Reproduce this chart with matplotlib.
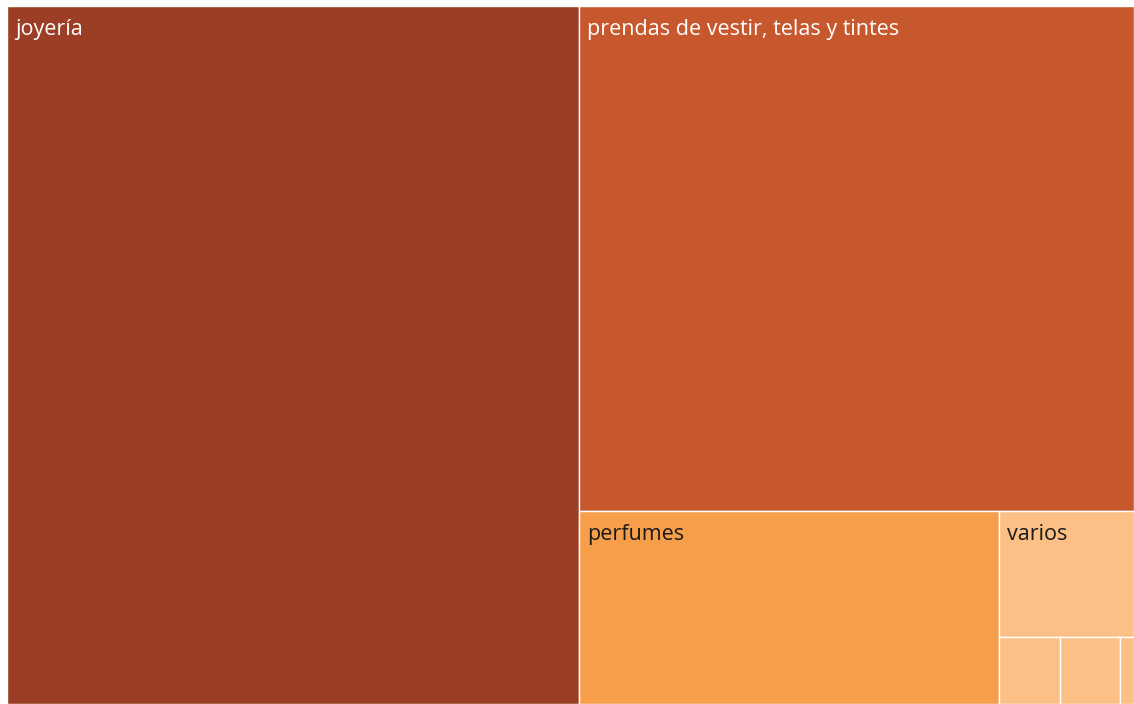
import matplotlib.pyplot as plt
from matplotlib.patches import Rectangle

# Treemap data (shares, percent of total)
categories = ['joyería', 'prendas de vestir, telas y tintes', 'perfumes', 'varios', '', '', '']
values = [50.7, 35.6, 10.3, 2.15, 0.52, 0.51, 0.12]
colors = ['#9B3E25', '#C7582E', '#F79E4B', '#FCC086', '#FCC086', '#FCC086', '#FCC086']
text_colors = ['white', 'white', '#1a1a1a', '#1a1a1a', '#1a1a1a', '#1a1a1a', '#1a1a1a']

W, H = 1127.0, 698.0


def worst(row, side):
    s = sum(row)
    return max(max(side * side * r / (s * s), s * s / (side * side * r)) for r in row)


def layout_row(row, x, y, w, h, rects):
    s = sum(row)
    if w >= h:
        # column on the left, stacked vertically
        cw = s / h
        cy = y
        for r in row:
            rh = r / cw
            rects.append((x, cy, cw, rh))
            cy += rh
        return x + cw, y, w - cw, h
    else:
        # row on the top, laid horizontally
        rh = s / w
        cx = x
        for r in row:
            rw = r / rh
            rects.append((cx, y, rw, rh))
            cx += rw
        return x, y + rh, w, h - rh


def squarify(sizes, x, y, w, h):
    rects = []
    sizes = list(sizes)
    while sizes:
        side = min(w, h)
        row = [sizes.pop(0)]
        while sizes and worst(row + [sizes[0]], side) <= worst(row, side):
            row.append(sizes.pop(0))
        x, y, w, h = layout_row(row, x, y, w, h, rects)
    return rects


total = sum(values)
areas = [v / total * W * H for v in values]
rects = squarify(areas, 0, 0, W, H)

fig = plt.figure(figsize=(11.34, 7.04), dpi=100)
ax = fig.add_axes([7 / 1134, 0, W / 1134, H / 704])
ax.set_xlim(0, W)
ax.set_ylim(H, 0)
ax.axis('off')

for (x, y, w, h), name, c, tc in zip(rects, categories, colors, text_colors):
    ax.add_patch(Rectangle((x, y), w, h, facecolor=c, edgecolor='white', linewidth=1.0))
    if name:
        ax.text(x + 8, y + 23, name, color=tc, fontsize=15.5, family='Open Sans',
                ha='left', va='center')

plt.savefig('out.png', dpi=100)
plt.close()
